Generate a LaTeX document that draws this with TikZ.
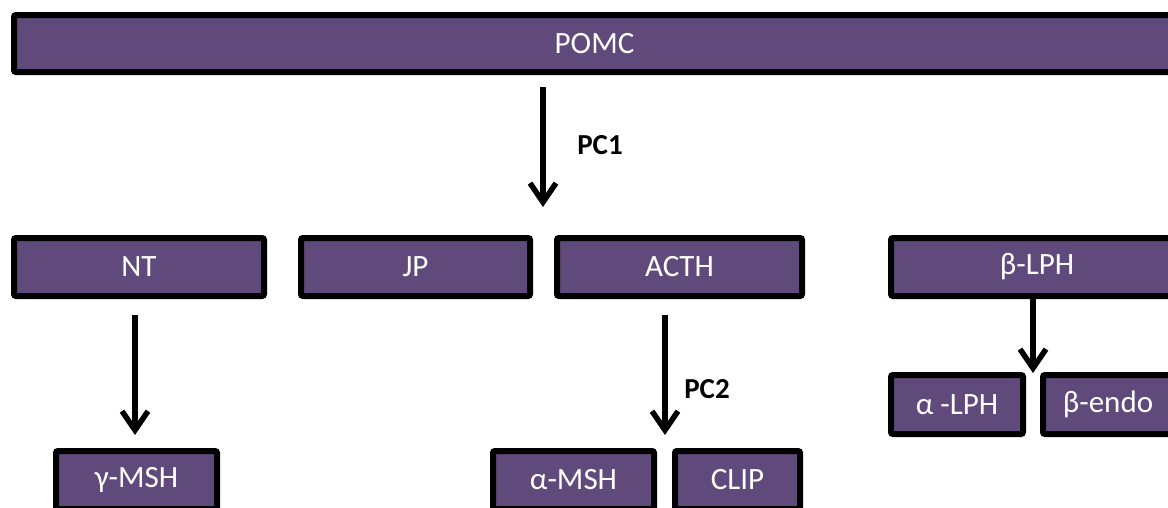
\documentclass[tikz,border=0pt]{standalone}
\usepackage{fontspec}
\setmainfont{Carlito}
\usetikzlibrary{arrows.meta}
\definecolor{boxpurple}{RGB}{96,74,123}
\tikzset{
  pbox/.style={draw=black, line width=6pt, fill=boxpurple, rounded corners=2pt,
    inner sep=0pt, outer sep=0pt, text=white, font=\fontsize{31}{37}\selectfont},
  arr/.style={draw=black, line width=5.5pt, -{Straight Barb[length=19pt,width=26pt]}},
  lab/.style={text=black, font=\bfseries\fontsize{29}{34}\selectfont, inner sep=0pt}
}
\begin{document}
\begin{tikzpicture}[x=1pt,y=-1pt]
\clip (0,0) rectangle (1168,507);
\fill[white] (0,0) rectangle (1168,507);
\node[pbox, minimum width=1161pt, minimum height=57pt] (POMC) at (594.5,43.5) {POMC};
\node[pbox, minimum width=250pt, minimum height=58pt] (NT) at (139,267) {NT};
\node[pbox, minimum width=229pt, minimum height=58pt] (JP) at (415.5,267) {JP};
\node[pbox, minimum width=245pt, minimum height=58pt] (ACTH) at (679.5,267) {ACTH};
\node[pbox, minimum width=292pt, minimum height=58pt] (bLPH) at (1037,267) {β-LPH};
\node[pbox, minimum width=161pt, minimum height=58pt] (gMSH) at (136.5,480) {γ-MSH};
\node[pbox, minimum width=161pt, minimum height=58pt] (aMSH) at (573.5,480) {α-MSH};
\node[pbox, minimum width=125pt, minimum height=58pt] (CLIP) at (737.5,480) {CLIP};
\node[pbox, minimum width=132pt, minimum height=59pt] (aLPH) at (957,404.5) {α -LPH};
\node[pbox, minimum width=130pt, minimum height=59pt] (bendo) at (1108,404.5) {β-endo};
\coordinate (t1) at (543,207);
\coordinate (t2) at (135,435);
\coordinate (t3) at (665,435);
\coordinate (t4) at (1033,373);
\draw[arr, shorten <=15pt] (POMC.south -| t1) -- (t1);
\draw[arr, shorten <=19pt] (NT.south -| t2) -- (t2);
\draw[arr, shorten <=19pt] (ACTH.south -| t3) -- (t3);
\draw[arr] (bLPH.south -| t4) -- (t4);
\node[lab] (pc1) at (600,145) {PC1};
\node[lab] (pc2) at (707,389) {PC2};
\end{tikzpicture}
\end{document}
